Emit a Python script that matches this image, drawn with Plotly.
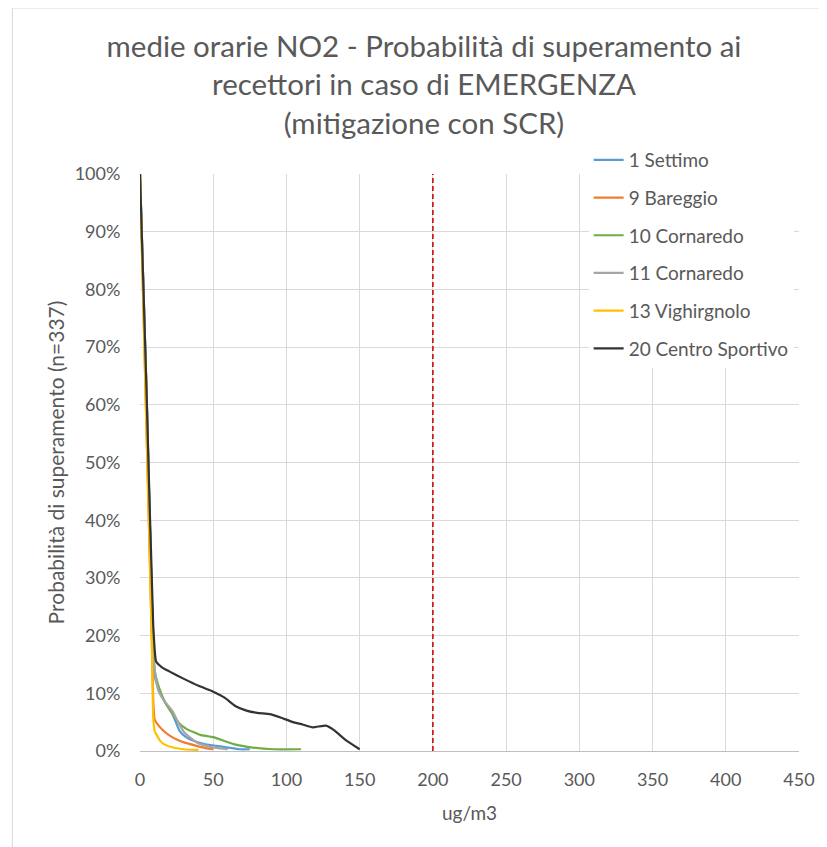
import plotly.graph_objects as go

# ---- data (concentration ug/m3 vs exceedance probability %) ----
x_settimo = [0, 4.5, 8.5, 10, 13, 17, 22, 27, 31, 36, 44, 52, 60, 68, 75]
p_settimo = [100, 62, 22, 13, 10.5, 8.5, 6.5, 3.5, 2.5, 1.8, 1.2, 0.9, 0.6, 0.3, 0.3]

x_bareggio = [0, 4, 8, 9, 10, 13, 16, 20, 25, 31, 38.6, 45, 50]
p_bareggio = [100, 60, 20, 9, 5.5, 4.3, 3.5, 2.7, 2, 1.4, 0.9, 0.5, 0.3]

x_corn10 = [0, 4.5, 8.5, 10, 13, 17, 22, 26, 32, 41, 50, 64, 77, 91, 110]
p_corn10 = [100, 62, 22, 14, 11, 8.5, 6.5, 5, 3.8, 2.8, 2.4, 1.2, 0.6, 0.3, 0.3]

x_corn11 = [0, 4.5, 8.5, 10, 12.5, 17, 22, 26, 30, 35, 40, 50, 60]
p_corn11 = [100, 62, 22, 14, 10.5, 8.5, 7, 5, 3.3, 2.2, 1.3, 0.6, 0.3]

x_vigh = [0, 4, 8, 9, 10, 13.6, 17, 22.7, 30, 38.6, 40]
p_vigh = [100, 60, 20, 6, 3.5, 1.8, 1.1, 0.6, 0.3, 0.2, 0.2]

x_centro = [0, 4.5, 9, 11, 15, 20, 30, 40, 49, 58, 65, 72.7, 80, 88.6, 96, 104.5, 111, 118, 127, 132, 141, 150]
p_centro = [100, 62, 22, 15.5, 14.5, 13.8, 12.5, 11.3, 10.4, 9.2, 7.8, 7.0, 6.6, 6.4, 5.8, 5.0, 4.6, 4.1, 4.4, 3.7, 1.8, 0.3]

limit_x = [200, 200]
limit_y = [0, 100]

series_names = ["1 Settimo", "9 Bareggio", "10 Cornaredo", "11 Cornaredo",
                "13 Vighirgnolo", "20 Centro Sportivo"]
series_x = [x_settimo, x_bareggio, x_corn10, x_corn11, x_vigh, x_centro]
series_p = [p_settimo, p_bareggio, p_corn10, p_corn11, p_vigh, p_centro]
series_colors = ["#5B9BD5", "#ED7D31", "#70AD47", "#A5A5A5", "#FFC000", "#333333"]

x_ticks = [0, 50, 100, 150, 200, 250, 300, 350, 400, 450]
y_ticks = [0, 10, 20, 30, 40, 50, 60, 70, 80, 90, 100]

FONT = "Lato"
TXT = "#595959"

fig = go.Figure()
for name, xs, ps, col in zip(series_names, series_x, series_p, series_colors):
    fig.add_trace(go.Scatter(
        x=xs, y=ps, mode="lines", name=name, legendgroup=name,
        line=dict(color=col, width=2.2, shape="spline", smoothing=0.4),
    ))

fig.add_trace(go.Scatter(
    x=limit_x, y=limit_y, mode="lines", showlegend=False,
    line=dict(color="#C00000", width=1.5, dash="5px,3px"),
))

# page body has an 8px margin, so figure coords = window coords - 8
OFF = 8
W, H = 827 - OFF, 847 - OFF
L, T = 140 - OFF, 174 - OFF
R = W - (801 - OFF)
B = H - (751 - OFF)
pw, ph = W - L - R, H - T - B

def px(xw):
    return (xw - OFF - L) / pw

def py(yw):
    return (H - B - (yw - OFF)) / ph

fig.add_shape(type="rect", xref="paper", yref="paper",
              x0=px(12), x1=px(860), y0=py(880), y1=py(8),
              line=dict(color="#D9D9D9", width=1), fillcolor="rgba(0,0,0,0)",
              layer="below")

fig.update_layout(
    width=W, height=H,
    margin=dict(l=L, r=R, t=T, b=B),
    paper_bgcolor="white", plot_bgcolor="white",
    font=dict(family=FONT, color=TXT),
    title=dict(
        text="medie orarie NO2 - Probabilità di superamento ai<br>recettori in caso di EMERGENZA<br>(mitigazione con SCR)",
        x=(424 - OFF) / W, xref="container", xanchor="center",
        y=1 - (57 - OFF) / H, yref="container", yanchor="middle",
        font=dict(family=FONT, size=29.5, color=TXT),
    ),
    legend=dict(
        x=px(590), y=py(141), xanchor="left", yanchor="top",
        bgcolor="white", borderwidth=0,
        font=dict(family=FONT, size=19, color=TXT),
        tracegroupgap=10, traceorder="grouped",
    ),
    xaxis=dict(
        range=[0, 450], tickvals=x_ticks, ticktext=[str(v) for v in x_ticks],
        showgrid=True, gridcolor="#D9D9D9", gridwidth=1,
        zeroline=False, showline=True, linecolor="#BFBFBF", linewidth=1,
        ticks="outside", ticklen=12, tickcolor="rgba(0,0,0,0)",
        tickfont=dict(family=FONT, size=18, color=TXT),
        title=dict(text="ug/m3", font=dict(family=FONT, size=19, color=TXT), standoff=18),
    ),
    yaxis=dict(
        range=[0, 100], tickvals=y_ticks, ticktext=[f"{v}%" for v in y_ticks],
        showgrid=True, gridcolor="#D9D9D9", gridwidth=1,
        zeroline=False, showline=False,
        ticks="outside", ticklen=15, tickcolor="rgba(0,0,0,0)",
        tickfont=dict(family=FONT, size=18, color=TXT),
        title=dict(text="Probabilità di superamento (n=337)",
                   font=dict(family=FONT, size=21, color=TXT), standoff=4),
    ),
)

fig.write_html("out.html")
